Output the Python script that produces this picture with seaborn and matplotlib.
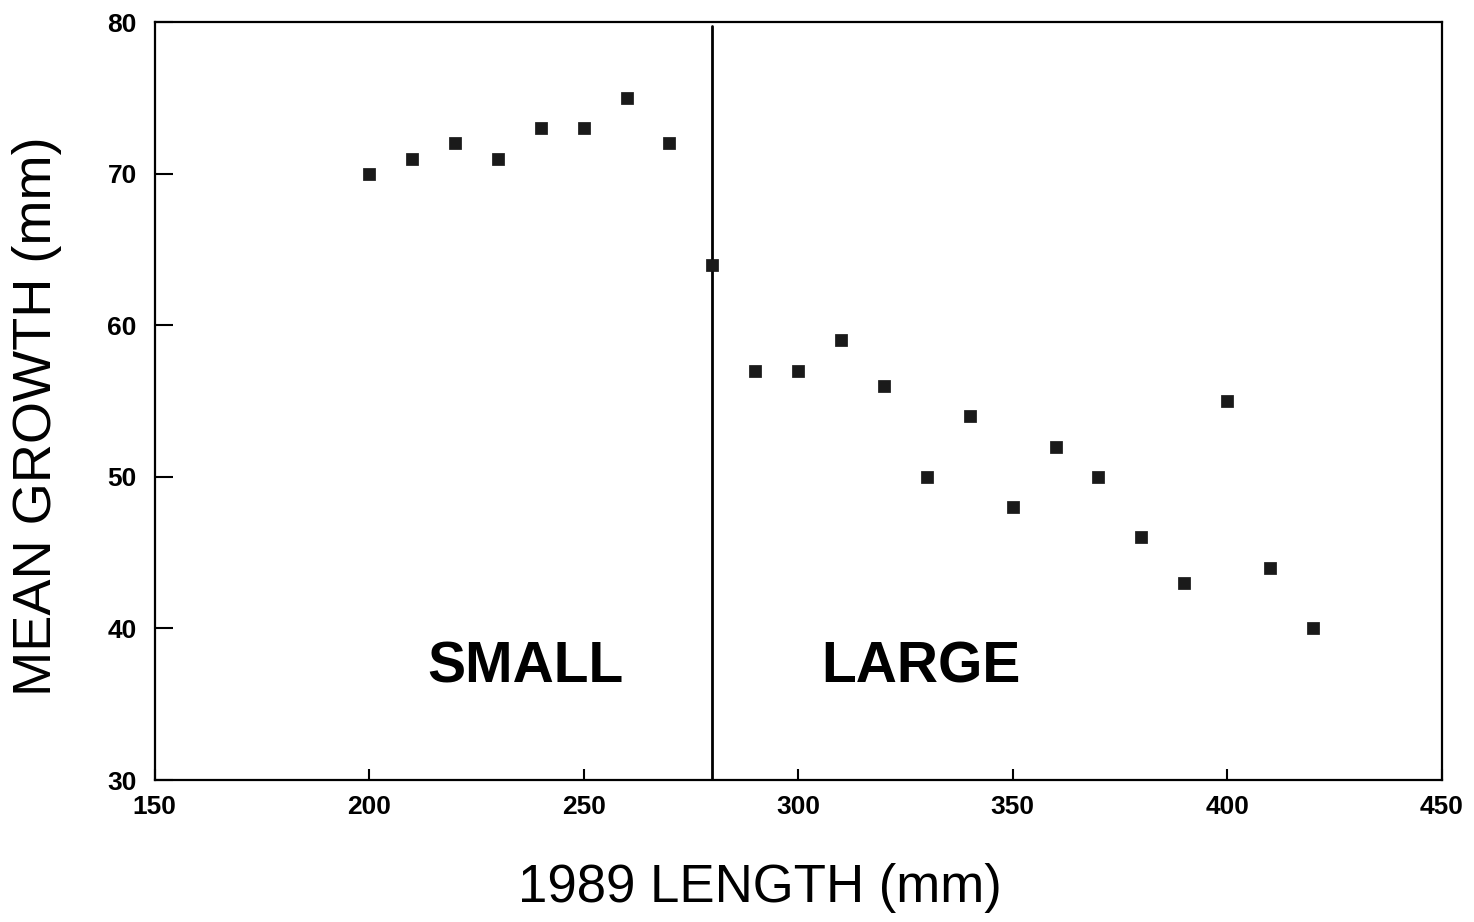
import matplotlib
matplotlib.use("Agg")
import matplotlib.pyplot as plt
import seaborn as sns
import pandas as pd

length_1989 = [200, 210, 220, 230, 240, 250, 260, 270, 280,
               290, 300, 310, 320, 330, 340, 350, 360, 370, 380, 390, 400, 410, 420]
mean_growth = [70, 71, 72, 71, 73, 73, 75, 72, 64,
               57, 57, 59, 56, 50, 54, 48, 52, 50, 46, 43, 55, 44, 40]
split_length = 280
x_ticks = [150, 200, 250, 300, 350, 400, 450]
y_ticks = [30, 40, 50, 60, 70, 80]

sns.set_theme(style="ticks")
plt.rcParams['font.family'] = ['Liberation Sans', 'DejaVu Sans']
plt.rcParams.update({'text.color': 'black', 'axes.labelcolor': 'black'})

df = pd.DataFrame({"length": length_1989, "growth": mean_growth})

fig = plt.figure(figsize=(14.74, 9.22), dpi=100)
ax = fig.add_axes([0.105, 0.154, 0.873, 0.822])

sns.scatterplot(data=df, x="length", y="growth", marker="s", s=80,
                color="#1a1a1a", edgecolor="#111111", linewidth=0.5, ax=ax, zorder=3)

ax.axvline(split_length, ymin=0, ymax=0.995, color="black", linewidth=2)

ax.set_xlim(150, 450)
ax.set_ylim(30, 80)
ax.set_xticks(x_ticks)
ax.set_yticks(y_ticks)
for sp in ax.spines.values():
    sp.set_visible(True)
    sp.set_linewidth(1.6)
    sp.set_color("black")

ax.xaxis.set_tick_params(which="major", bottom=True, top=False, direction="in",
                         length=8, width=1.5, color="black", pad=11,
                         labelsize=19, labelcolor="black")
ax.yaxis.set_tick_params(which="major", left=True, right=False, direction="in",
                         length=13, width=1.5, color="black", pad=13,
                         labelsize=19, labelcolor="black")
for lab in ax.get_xticklabels() + ax.get_yticklabels():
    lab.set_fontweight("bold")

ax.set_xlabel("1989 LENGTH (mm)", fontsize=38)
ax.set_ylabel("MEAN GROWTH (mm)", fontsize=39)
ax.xaxis.set_label_coords(0.47, -0.11)
ax.yaxis.set_label_coords(-0.072, 0.48)

ax.text(236.5, 37.4, "SMALL", fontsize=41, fontweight="bold", ha="center", va="center")
ax.text(328.6, 37.4, "LARGE", fontsize=41, fontweight="bold", ha="center", va="center")

fig.savefig("out.png", dpi=100)
